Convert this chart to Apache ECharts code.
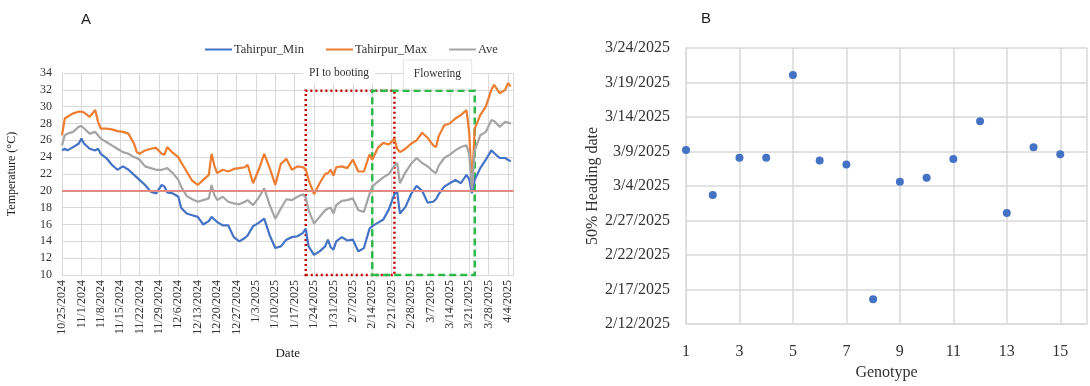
<!DOCTYPE html>
<html><head><meta charset="utf-8">
<script src="https://cdn.jsdelivr.net/npm/echarts@6/dist/echarts.min.js"></script>
<style>html,body{margin:0;padding:0;background:#fff}#c{width:1090px;height:386px}</style>
</head><body><div id="c"></div>
<script>
// ---------- Panel A data (days since 10/25/2024) ----------
const START_A = Date.UTC(2024, 9, 25);
const dayNum = [0,1,2,4,6,7,8,10,12,13,14,16,18,20,22,24,26,27,28,30,32,34,36,37,38,40,42,43,45,47,49,51,53,54,55,56,58,60,62,64,66,67,69,71,73,75,77,79,81,83,85,87,88,89,91,93,95,96,97,98,99,101,103,105,107,109,111,112,114,116,118,120,121,122,124,126,128,130,132,134,135,136,138,140,142,144,146,147,148,149,151,153,155,156,158,160,161,162];
const tMax = [26.6,28.6,28.8,29.2,29.4,29.4,29.3,28.8,29.6,28.2,27.4,27.4,27.3,27.1,27.0,26.8,25.6,24.6,24.4,24.8,25.0,25.1,24.4,24.3,25.2,24.5,24.0,23.4,22.3,21.2,20.7,21.3,21.9,24.4,23.0,22.1,22.5,22.3,22.6,22.7,22.8,23.1,20.9,22.5,24.4,22.7,20.7,23.2,23.8,22.5,22.9,22.8,22.6,21.3,19.6,20.9,22.0,22.1,22.5,21.8,22.8,22.9,22.7,23.7,22.3,22.3,24.3,23.7,25.1,25.7,25.5,26.2,25.0,24.6,25.0,25.6,26.0,26.9,26.3,25.4,25.2,26.5,27.8,28.0,28.6,29.0,29.6,27.0,20.5,27.4,29.0,30.0,32.0,32.6,31.6,32.0,32.8,32.4];
const tAve = [25.4,26.6,26.8,27.0,27.6,27.7,27.4,26.8,27.0,26.6,26.2,25.8,25.4,25.0,24.6,24.4,24.0,23.9,23.7,22.9,22.7,22.5,22.5,22.6,22.7,22.1,21.3,20.5,19.4,19.0,18.7,18.9,19.1,20.7,19.5,18.9,19.3,18.7,18.5,18.4,18.7,18.9,18.3,19.2,20.3,18.3,16.7,17.9,19.0,18.9,19.3,19.6,19.2,17.7,16.1,16.9,17.7,17.9,18.0,17.3,18.3,18.8,18.9,19.1,17.7,17.5,19.6,20.5,21.1,21.6,22.0,23.0,23.3,20.9,22.2,23.2,23.9,23.3,22.9,22.3,22.1,23.0,23.9,24.3,24.8,25.2,25.4,24.4,20.2,24.8,26.6,27.0,28.4,28.3,27.6,28.2,28.1,28.0];
const tMin = [24.8,25.0,24.8,25.2,25.6,26.2,25.6,25.0,24.8,25.0,24.4,23.9,23.1,22.5,22.9,22.5,21.9,21.6,21.3,20.7,19.9,19.7,20.7,20.5,19.8,19.7,19.3,18.0,17.3,17.1,16.9,16.0,16.4,16.9,16.6,16.3,15.9,15.9,14.5,14.0,14.4,14.7,15.8,16.2,16.7,14.7,13.2,13.4,14.2,14.5,14.6,15.0,15.5,13.4,12.4,12.8,13.4,14.2,13.3,13.0,14.0,14.5,14.1,14.2,12.8,13.2,15.5,15.8,16.2,16.6,17.8,19.6,19.9,17.3,18.1,19.6,20.6,20.0,18.6,18.7,19.0,19.6,20.5,20.9,21.3,20.9,21.9,21.4,19.7,21.3,22.7,23.7,24.8,24.5,23.9,23.9,23.7,23.5];
const dateTicks = ['10/25/2024','11/1/2024','11/8/2024','11/15/2024','11/22/2024','11/29/2024','12/6/2024','12/13/2024','12/20/2024','12/27/2024','1/3/2025','1/10/2025','1/17/2025','1/24/2025','1/31/2025','2/7/2025','2/14/2025','2/21/2025','2/28/2025','3/7/2025','3/14/2025','3/21/2025','3/28/2025','4/4/2025'];
const threshold = 20;
const stages = [
  { name: 'PI to booting', from: '2025-01-21', to: '2025-02-22', top: 31.9 },
  { name: 'Flowering', from: '2025-02-14', to: '2025-03-23', top: 31.9 }
];

// ---------- Panel B data ----------
const HEADING_BASE = Date.UTC(2025, 1, 12); // 2/12/2025
const genotypes = [1,2,3,4,5,6,7,8,9,10,11,12,13,14,15];
const headingDays = [25.2,18.7,24.1,24.1,36.1,23.7,23.1,3.6,20.6,21.2,23.9,29.4,16.1,25.6,24.6]; // days after 2/12/2025
const headingTicks = ['2/12/2025','2/17/2025','2/22/2025','2/27/2025','3/4/2025','3/9/2025','3/14/2025','3/19/2025','3/24/2025'];

// ---------- helpers ----------
const DAY = 86400000;
const toDay = s => Math.round((Date.parse(s + 'T00:00:00Z') - START_A) / DAY);
const zip = (xs, ys) => xs.map((x, i) => [x, ys[i]]);
const SERIF = 'Liberation Serif';
const GRID = '#d9d9d9';

const chart = echarts.init(document.getElementById('c'));
chart.setOption({
  animation: false,
  backgroundColor: '#fff',
  title: [
    { text: 'A', left: 76, top: 7, textStyle: { fontFamily: 'Liberation Sans', fontSize: 15, fontWeight: 'normal', color: '#222' } },
    { text: 'B', left: 696, top: 6, textStyle: { fontFamily: 'Liberation Sans', fontSize: 15, fontWeight: 'normal', color: '#222' } }
  ],
  legend: {
    data: ['Tahirpur_Min', 'Tahirpur_Max', 'Ave'],
    left: 200, top: 38, icon: 'rect', itemWidth: 27, itemHeight: 2, itemGap: 22,
    textStyle: { fontFamily: SERIF, fontSize: 12.5, color: '#333', padding: [0, 0, 0, -3] }
  },
  grid: [
    { left: 62, top: 73, width: 163 * 2.77, bottom: 111 },
    { left: 686, top: 48, right: 0, bottom: 54 }
  ],
  xAxis: [
    {
      gridIndex: 0, type: 'value', min: 0, max: 163, interval: 7,
      name: 'Date', nameLocation: 'middle', nameGap: 72,
      nameTextStyle: { fontFamily: SERIF, fontSize: 13, color: '#222' },
      axisLine: { lineStyle: { color: GRID } }, axisTick: { show: false },
      splitLine: { show: true, lineStyle: { color: GRID } },
      axisLabel: {
        rotate: 90, margin: 5, fontFamily: SERIF, fontSize: 12, color: '#333',
        formatter: v => (v % 7 === 0 && dateTicks[v / 7]) ? dateTicks[v / 7] : ''
      }
    },
    {
      gridIndex: 1, type: 'value', min: 1, max: 16, interval: 2,
      name: 'Genotype', nameLocation: 'middle', nameGap: 41,
      nameTextStyle: { fontFamily: SERIF, fontSize: 16, color: '#333' },
      axisLine: { lineStyle: { color: GRID } }, axisTick: { show: false },
      splitLine: { show: true, lineStyle: { color: GRID, width: 1.5 } },
      axisLabel: {
        margin: 20, fontFamily: SERIF, fontSize: 16, color: '#333',
        formatter: v => (v % 2 === 1 && v <= 15) ? String(v) : ''
      }
    }
  ],
  yAxis: [
    {
      gridIndex: 0, type: 'value', min: 10, max: 34, interval: 2,
      name: 'Temperature (°C)', nameLocation: 'middle', nameGap: 44,
      nameTextStyle: { fontFamily: SERIF, fontSize: 12, color: '#222' },
      axisLine: { show: true, lineStyle: { color: GRID } }, axisTick: { show: false },
      splitLine: { show: true, lineStyle: { color: GRID } },
      axisLabel: { margin: 10, fontFamily: SERIF, fontSize: 12, color: '#333' }
    },
    {
      gridIndex: 1, type: 'value', min: 0, max: 40, interval: 5,
      name: '50% Heading date', nameLocation: 'middle', nameGap: 72,
      nameTextStyle: { fontFamily: SERIF, fontSize: 16, color: '#333' },
      axisLine: { show: true, lineStyle: { color: GRID } }, axisTick: { show: false },
      splitLine: { show: true, lineStyle: { color: GRID, width: 1.5 } },
      axisLabel: {
        margin: 16, fontFamily: SERIF, fontSize: 16, color: '#333',
        formatter: v => headingTicks[v / 5] || ''
      }
    }
  ],
  series: [
    {
      name: 'Tahirpur_Min', type: 'line', xAxisIndex: 0, yAxisIndex: 0,
      data: zip(dayNum, tMin), showSymbol: false, lineStyle: { color: '#4472c4', width: 2.2 }, itemStyle: { color: '#4472c4' },
      markArea: {
        silent: true,
        itemStyle: { color: 'rgba(0,0,0,0)', borderColor: '#c00000', borderWidth: 2.5, borderType: [2, 3] },
        label: {
          position: 'top', distance: 6, offset: [-11, 0], fontFamily: SERIF, fontSize: 11.5, color: '#333',
          backgroundColor: '#fff', padding: [4, 6]
        },
        data: [[{ name: stages[0].name, xAxis: toDay(stages[0].from), yAxis: 10 }, { xAxis: toDay(stages[0].to), yAxis: stages[0].top }]]
      }
    },
    {
      name: 'Tahirpur_Max', type: 'line', xAxisIndex: 0, yAxisIndex: 0,
      data: zip(dayNum, tMax), showSymbol: false, lineStyle: { color: '#ed7d31', width: 2.2 }, itemStyle: { color: '#ed7d31' },
      markArea: {
        silent: true,
        itemStyle: { color: 'rgba(0,0,0,0)', borderColor: '#2eb84a', borderWidth: 2.5, borderType: [7, 4] },
        label: {
          position: 'top', distance: 1, offset: [14, 0], fontFamily: SERIF, fontSize: 11.5, color: '#333',
          backgroundColor: '#fff', padding: [8, 10], borderColor: '#e6e6e6', borderWidth: 1
        },
        data: [[{ name: stages[1].name, xAxis: toDay(stages[1].from), yAxis: 10 }, { xAxis: toDay(stages[1].to), yAxis: stages[1].top }]]
      }
    },
    {
      name: 'Ave', type: 'line', xAxisIndex: 0, yAxisIndex: 0,
      data: zip(dayNum, tAve), showSymbol: false, lineStyle: { color: '#a5a5a5', width: 2.2 }, itemStyle: { color: '#a5a5a5' },
      markLine: {
        silent: true, symbol: 'none', label: { show: false },
        lineStyle: { color: '#e08a80', width: 2, type: 'solid' },
        data: [{ yAxis: threshold }]
      }
    },
    {
      name: 'Heading', type: 'scatter', xAxisIndex: 1, yAxisIndex: 1,
      data: zip(genotypes, headingDays), symbolSize: 8, itemStyle: { color: '#4472c4', opacity: 1 }
    }
  ]
});
</script></body></html>
